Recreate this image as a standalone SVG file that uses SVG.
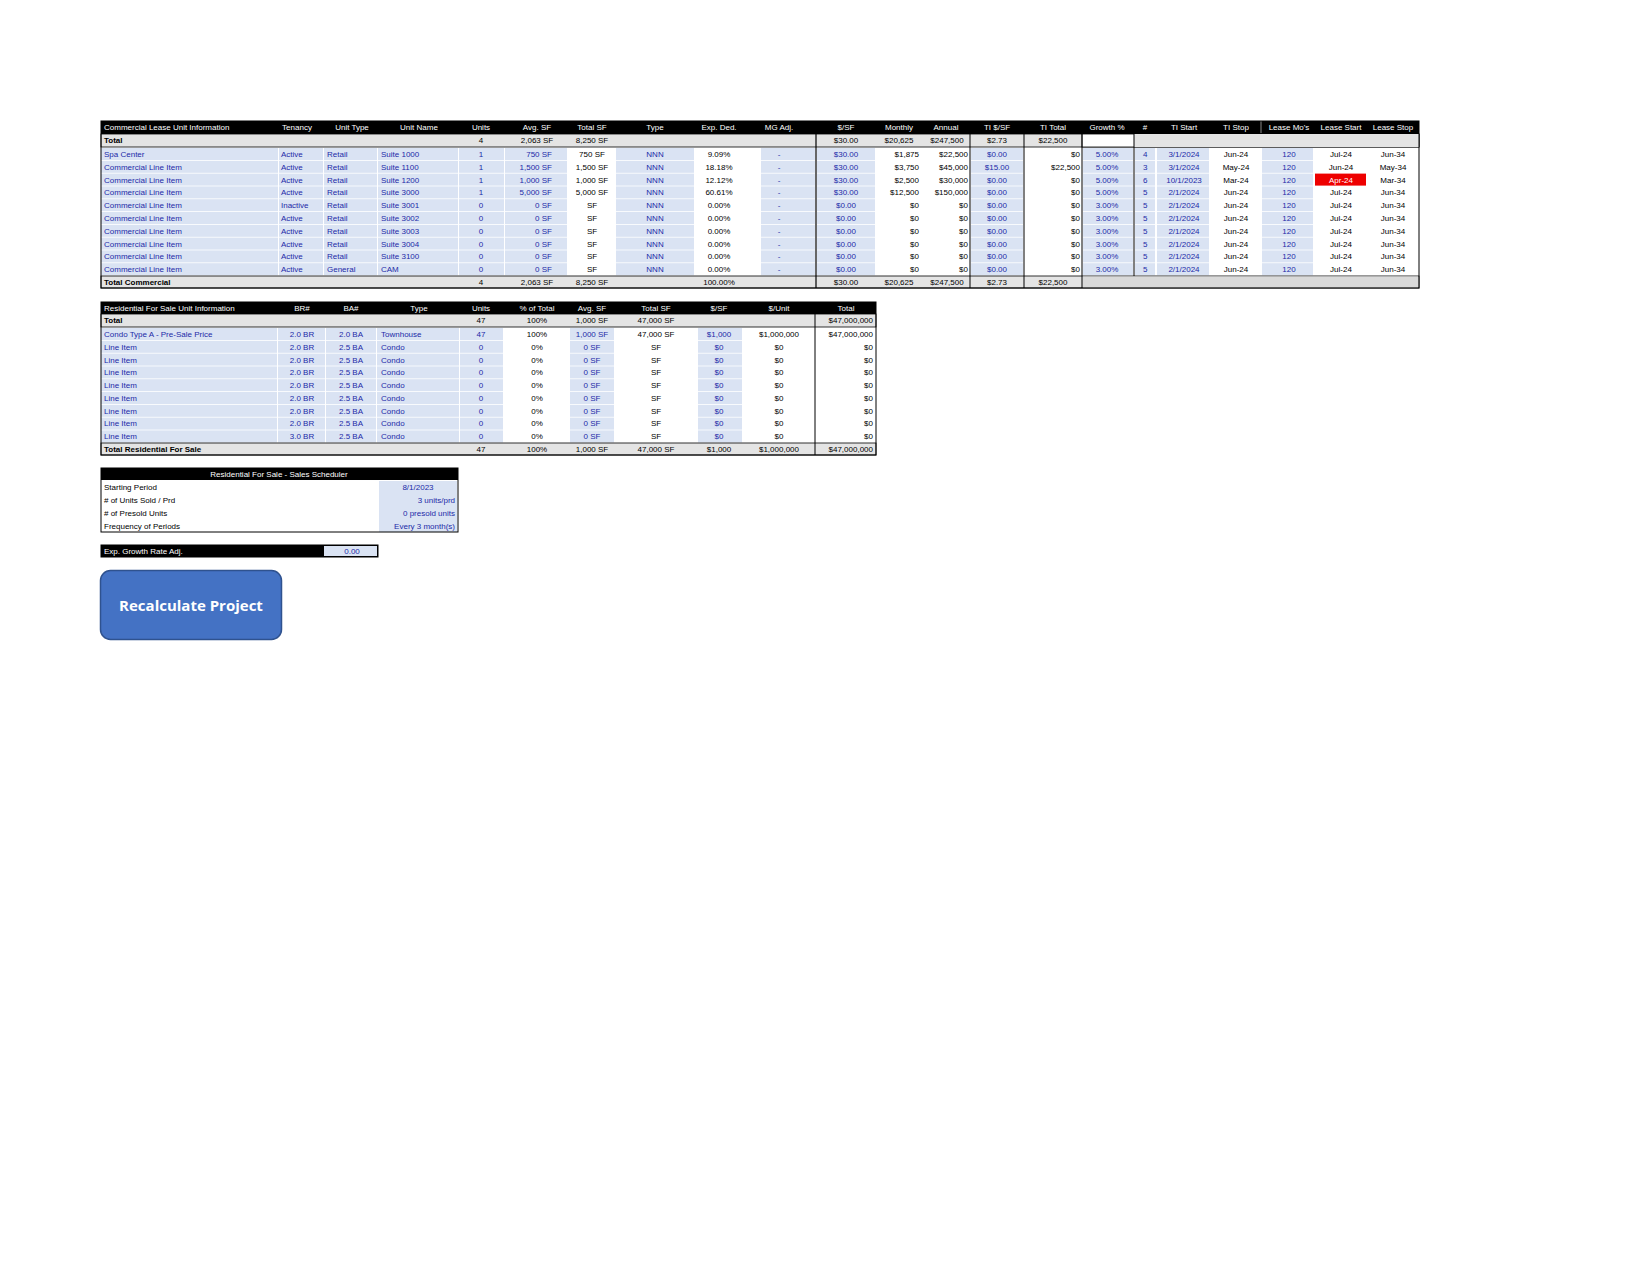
<svg xmlns="http://www.w3.org/2000/svg" width="1650" height="1275" viewBox="0 0 1650 1275">
<style>
text{font-family:"Liberation Sans",Arial,sans-serif;font-size:8px;fill:#000}
.h{fill:#fff}.b{fill:#1c2aa8}.bo{font-weight:bold}
.m{text-anchor:middle}.r{text-anchor:end}
.lb{fill:#dae3f3}.gr{fill:#e4e4e4}.bk{fill:#000}
</style>
<defs>
<g id="crow"><rect x="101" y="0.5" width="177" height="12" class="lb"/><rect x="279" y="0.5" width="44" height="12" class="lb"/><rect x="324" y="0.5" width="53" height="12" class="lb"/><rect x="378" y="0.5" width="80" height="12" class="lb"/><rect x="459" y="0.5" width="45" height="12" class="lb"/><rect x="505" y="0.5" width="62" height="12" class="lb"/><rect x="616" y="0.5" width="78" height="12" class="lb"/><rect x="761" y="0.5" width="54" height="12" class="lb"/><rect x="817" y="0.5" width="58" height="12" class="lb"/><rect x="971" y="0.5" width="52" height="12" class="lb"/><rect x="1083" y="0.5" width="50" height="12" class="lb"/><rect x="1135" y="0.5" width="20" height="12" class="lb"/><rect x="1157" y="0.5" width="52" height="12" class="lb"/><rect x="1262" y="0.5" width="51" height="12" class="lb"/></g>
<g id="rrow"><rect x="101" y="0.5" width="176" height="12" class="lb"/><rect x="278" y="0.5" width="47" height="12" class="lb"/><rect x="326" y="0.5" width="50" height="12" class="lb"/><rect x="377" y="0.5" width="82" height="12" class="lb"/><rect x="460" y="0.5" width="43" height="12" class="lb"/><rect x="570" y="0.5" width="44" height="12" class="lb"/><rect x="698" y="0.5" width="44" height="12" class="lb"/></g>
</defs>
<rect width="1650" height="1275" fill="#fff"/>
<g id="commercial">
<rect x="101" y="121" width="1318" height="13" class="bk"/>
<text x="104" y="130" class="h">Commercial Lease Unit Information</text>
<text x="297" y="130" class="h m">Tenancy</text><text x="352" y="130" class="h m">Unit Type</text><text x="419" y="130" class="h m">Unit Name</text><text x="481" y="130" class="h m">Units</text><text x="537" y="130" class="h m">Avg. SF</text><text x="592" y="130" class="h m">Total SF</text><text x="655" y="130" class="h m">Type</text><text x="719" y="130" class="h m">Exp. Ded.</text><text x="779" y="130" class="h m">MG Adj.</text><text x="846" y="130" class="h m">$/SF</text><text x="899" y="130" class="h m">Monthly</text><text x="946" y="130" class="h m">Annual</text><text x="997" y="130" class="h m">TI $/SF</text><text x="1053" y="130" class="h m">TI Total</text><text x="1107" y="130" class="h m">Growth %</text><text x="1145" y="130" class="h m">#</text><text x="1184" y="130" class="h m">TI Start</text><text x="1236" y="130" class="h m">TI Stop</text><text x="1289" y="130" class="h m">Lease Mo's</text><text x="1341" y="130" class="h m">Lease Start</text><text x="1393" y="130" class="h m">Lease Stop</text>
<rect x="101" y="134" width="1318" height="13" class="gr" stroke="#000" stroke-width="0.8"/>
<rect x="1082" y="134" width="337" height="13" fill="#fff" stroke="#000" stroke-width="0.8"/>
<rect x="1134" y="134" width="285" height="13" class="gr"/>
<text x="104" y="143" class="bo">Total</text><text x="481" y="143" class="m">4</text><text x="537" y="143" class="m">2,063 SF</text><text x="592" y="143" class="m">8,250 SF</text><text x="846" y="143" class="m">$30.00</text><text x="899" y="143" class="m">$20,625</text><text x="947" y="143" class="m">$247,500</text><text x="997" y="143" class="m">$2.73</text><text x="1053" y="143" class="m">$22,500</text>
<use href="#crow" y="147.5"/><use href="#crow" y="160.3"/><use href="#crow" y="173.1"/><use href="#crow" y="185.9"/><use href="#crow" y="198.7"/><use href="#crow" y="211.5"/><use href="#crow" y="224.3"/><use href="#crow" y="237.1"/><use href="#crow" y="249.9"/><use href="#crow" y="262.7"/>
<rect x="1315" y="173.6" width="51" height="12" fill="#ee0000"/>
<line x1="816" y1="121" x2="816" y2="288" stroke="#000" stroke-width="1.2"/>
<line x1="970" y1="134" x2="970" y2="288" stroke="#000" stroke-width="1"/>
<line x1="1024" y1="121" x2="1024" y2="288" stroke="#000" stroke-width="1"/>
<line x1="1082" y1="134" x2="1082" y2="288" stroke="#000" stroke-width="1"/>
<line x1="1134" y1="134" x2="1134" y2="288" stroke="#000" stroke-width="1"/>
<line x1="1261" y1="121" x2="1261" y2="133" stroke="#888" stroke-width="1"/>
<g id="ctext">
<text x="104" y="157" class="b">Spa Center</text><text x="281" y="157" class="b">Active</text><text x="327" y="157" class="b">Retail</text><text x="381" y="157" class="b">Suite 1000</text><text x="481" y="157" class="b m">1</text><text x="552" y="157" class="b r">750 SF</text><text x="592" y="157" class="m">750 SF</text><text x="655" y="157" class="b m">NNN</text><text x="719" y="157" class="m">9.09%</text><text x="779" y="157" class="b m">-</text><text x="846" y="157" class="b m">$30.00</text><text x="919" y="157" class="r">$1,875</text><text x="968" y="157" class="r">$22,500</text><text x="997" y="157" class="b m">$0.00</text><text x="1080" y="157" class="r">$0</text><text x="1107" y="157" class="b m">5.00%</text><text x="1143" y="157" class="b">4</text><text x="1184" y="157" class="b m">3/1/2024</text><text x="1236" y="157" class="m">Jun-24</text><text x="1289" y="157" class="b m">120</text><text x="1341" y="157" class="m">Jul-24</text><text x="1393" y="157" class="m">Jun-34</text>
<text x="104" y="170" class="b">Commercial Line Item</text><text x="281" y="170" class="b">Active</text><text x="327" y="170" class="b">Retail</text><text x="381" y="170" class="b">Suite 1100</text><text x="481" y="170" class="b m">1</text><text x="552" y="170" class="b r">1,500 SF</text><text x="592" y="170" class="m">1,500 SF</text><text x="655" y="170" class="b m">NNN</text><text x="719" y="170" class="m">18.18%</text><text x="779" y="170" class="b m">-</text><text x="846" y="170" class="b m">$30.00</text><text x="919" y="170" class="r">$3,750</text><text x="968" y="170" class="r">$45,000</text><text x="997" y="170" class="b m">$15.00</text><text x="1080" y="170" class="r">$22,500</text><text x="1107" y="170" class="b m">5.00%</text><text x="1143" y="170" class="b">3</text><text x="1184" y="170" class="b m">3/1/2024</text><text x="1236" y="170" class="m">May-24</text><text x="1289" y="170" class="b m">120</text><text x="1341" y="170" class="m">Jun-24</text><text x="1393" y="170" class="m">May-34</text>
<text x="104" y="183" class="b">Commercial Line Item</text><text x="281" y="183" class="b">Active</text><text x="327" y="183" class="b">Retail</text><text x="381" y="183" class="b">Suite 1200</text><text x="481" y="183" class="b m">1</text><text x="552" y="183" class="b r">1,000 SF</text><text x="592" y="183" class="m">1,000 SF</text><text x="655" y="183" class="b m">NNN</text><text x="719" y="183" class="m">12.12%</text><text x="779" y="183" class="b m">-</text><text x="846" y="183" class="b m">$30.00</text><text x="919" y="183" class="r">$2,500</text><text x="968" y="183" class="r">$30,000</text><text x="997" y="183" class="b m">$0.00</text><text x="1080" y="183" class="r">$0</text><text x="1107" y="183" class="b m">5.00%</text><text x="1143" y="183" class="b">6</text><text x="1184" y="183" class="b m">10/1/2023</text><text x="1236" y="183" class="m">Mar-24</text><text x="1289" y="183" class="b m">120</text><text x="1341" y="183" class="m h">Apr-24</text><text x="1393" y="183" class="m">Mar-34</text>
<text x="104" y="195" class="b">Commercial Line Item</text><text x="281" y="195" class="b">Active</text><text x="327" y="195" class="b">Retail</text><text x="381" y="195" class="b">Suite 3000</text><text x="481" y="195" class="b m">1</text><text x="552" y="195" class="b r">5,000 SF</text><text x="592" y="195" class="m">5,000 SF</text><text x="655" y="195" class="b m">NNN</text><text x="719" y="195" class="m">60.61%</text><text x="779" y="195" class="b m">-</text><text x="846" y="195" class="b m">$30.00</text><text x="919" y="195" class="r">$12,500</text><text x="968" y="195" class="r">$150,000</text><text x="997" y="195" class="b m">$0.00</text><text x="1080" y="195" class="r">$0</text><text x="1107" y="195" class="b m">5.00%</text><text x="1143" y="195" class="b">5</text><text x="1184" y="195" class="b m">2/1/2024</text><text x="1236" y="195" class="m">Jun-24</text><text x="1289" y="195" class="b m">120</text><text x="1341" y="195" class="m">Jul-24</text><text x="1393" y="195" class="m">Jun-34</text>
<text x="104" y="208" class="b">Commercial Line Item</text><text x="281" y="208" class="b">Inactive</text><text x="327" y="208" class="b">Retail</text><text x="381" y="208" class="b">Suite 3001</text><text x="481" y="208" class="b m">0</text><text x="552" y="208" class="b r">0 SF</text><text x="592" y="208" class="m">SF</text><text x="655" y="208" class="b m">NNN</text><text x="719" y="208" class="m">0.00%</text><text x="779" y="208" class="b m">-</text><text x="846" y="208" class="b m">$0.00</text><text x="919" y="208" class="r">$0</text><text x="968" y="208" class="r">$0</text><text x="997" y="208" class="b m">$0.00</text><text x="1080" y="208" class="r">$0</text><text x="1107" y="208" class="b m">3.00%</text><text x="1143" y="208" class="b">5</text><text x="1184" y="208" class="b m">2/1/2024</text><text x="1236" y="208" class="m">Jun-24</text><text x="1289" y="208" class="b m">120</text><text x="1341" y="208" class="m">Jul-24</text><text x="1393" y="208" class="m">Jun-34</text>
<text x="104" y="221" class="b">Commercial Line Item</text><text x="281" y="221" class="b">Active</text><text x="327" y="221" class="b">Retail</text><text x="381" y="221" class="b">Suite 3002</text><text x="481" y="221" class="b m">0</text><text x="552" y="221" class="b r">0 SF</text><text x="592" y="221" class="m">SF</text><text x="655" y="221" class="b m">NNN</text><text x="719" y="221" class="m">0.00%</text><text x="779" y="221" class="b m">-</text><text x="846" y="221" class="b m">$0.00</text><text x="919" y="221" class="r">$0</text><text x="968" y="221" class="r">$0</text><text x="997" y="221" class="b m">$0.00</text><text x="1080" y="221" class="r">$0</text><text x="1107" y="221" class="b m">3.00%</text><text x="1143" y="221" class="b">5</text><text x="1184" y="221" class="b m">2/1/2024</text><text x="1236" y="221" class="m">Jun-24</text><text x="1289" y="221" class="b m">120</text><text x="1341" y="221" class="m">Jul-24</text><text x="1393" y="221" class="m">Jun-34</text>
<text x="104" y="234" class="b">Commercial Line Item</text><text x="281" y="234" class="b">Active</text><text x="327" y="234" class="b">Retail</text><text x="381" y="234" class="b">Suite 3003</text><text x="481" y="234" class="b m">0</text><text x="552" y="234" class="b r">0 SF</text><text x="592" y="234" class="m">SF</text><text x="655" y="234" class="b m">NNN</text><text x="719" y="234" class="m">0.00%</text><text x="779" y="234" class="b m">-</text><text x="846" y="234" class="b m">$0.00</text><text x="919" y="234" class="r">$0</text><text x="968" y="234" class="r">$0</text><text x="997" y="234" class="b m">$0.00</text><text x="1080" y="234" class="r">$0</text><text x="1107" y="234" class="b m">3.00%</text><text x="1143" y="234" class="b">5</text><text x="1184" y="234" class="b m">2/1/2024</text><text x="1236" y="234" class="m">Jun-24</text><text x="1289" y="234" class="b m">120</text><text x="1341" y="234" class="m">Jul-24</text><text x="1393" y="234" class="m">Jun-34</text>
<text x="104" y="247" class="b">Commercial Line Item</text><text x="281" y="247" class="b">Active</text><text x="327" y="247" class="b">Retail</text><text x="381" y="247" class="b">Suite 3004</text><text x="481" y="247" class="b m">0</text><text x="552" y="247" class="b r">0 SF</text><text x="592" y="247" class="m">SF</text><text x="655" y="247" class="b m">NNN</text><text x="719" y="247" class="m">0.00%</text><text x="779" y="247" class="b m">-</text><text x="846" y="247" class="b m">$0.00</text><text x="919" y="247" class="r">$0</text><text x="968" y="247" class="r">$0</text><text x="997" y="247" class="b m">$0.00</text><text x="1080" y="247" class="r">$0</text><text x="1107" y="247" class="b m">3.00%</text><text x="1143" y="247" class="b">5</text><text x="1184" y="247" class="b m">2/1/2024</text><text x="1236" y="247" class="m">Jun-24</text><text x="1289" y="247" class="b m">120</text><text x="1341" y="247" class="m">Jul-24</text><text x="1393" y="247" class="m">Jun-34</text>
<text x="104" y="259" class="b">Commercial Line Item</text><text x="281" y="259" class="b">Active</text><text x="327" y="259" class="b">Retail</text><text x="381" y="259" class="b">Suite 3100</text><text x="481" y="259" class="b m">0</text><text x="552" y="259" class="b r">0 SF</text><text x="592" y="259" class="m">SF</text><text x="655" y="259" class="b m">NNN</text><text x="719" y="259" class="m">0.00%</text><text x="779" y="259" class="b m">-</text><text x="846" y="259" class="b m">$0.00</text><text x="919" y="259" class="r">$0</text><text x="968" y="259" class="r">$0</text><text x="997" y="259" class="b m">$0.00</text><text x="1080" y="259" class="r">$0</text><text x="1107" y="259" class="b m">3.00%</text><text x="1143" y="259" class="b">5</text><text x="1184" y="259" class="b m">2/1/2024</text><text x="1236" y="259" class="m">Jun-24</text><text x="1289" y="259" class="b m">120</text><text x="1341" y="259" class="m">Jul-24</text><text x="1393" y="259" class="m">Jun-34</text>
<text x="104" y="272" class="b">Commercial Line Item</text><text x="281" y="272" class="b">Active</text><text x="327" y="272" class="b">General</text><text x="381" y="272" class="b">CAM</text><text x="481" y="272" class="b m">0</text><text x="552" y="272" class="b r">0 SF</text><text x="592" y="272" class="m">SF</text><text x="655" y="272" class="b m">NNN</text><text x="719" y="272" class="m">0.00%</text><text x="779" y="272" class="b m">-</text><text x="846" y="272" class="b m">$0.00</text><text x="919" y="272" class="r">$0</text><text x="968" y="272" class="r">$0</text><text x="997" y="272" class="b m">$0.00</text><text x="1080" y="272" class="r">$0</text><text x="1107" y="272" class="b m">3.00%</text><text x="1143" y="272" class="b">5</text><text x="1184" y="272" class="b m">2/1/2024</text><text x="1236" y="272" class="m">Jun-24</text><text x="1289" y="272" class="b m">120</text><text x="1341" y="272" class="m">Jul-24</text><text x="1393" y="272" class="m">Jun-34</text>
</g>
<rect x="101" y="276" width="1318" height="12" class="gr" stroke="#000" stroke-width="0.8"/>
<rect x="1082.5" y="276.5" width="336" height="11" fill="#d9d9d9"/>
<line x1="816" y1="276" x2="816" y2="288" stroke="#000" stroke-width="1.2"/><line x1="970" y1="276" x2="970" y2="288" stroke="#000"/><line x1="1024" y1="276" x2="1024" y2="288" stroke="#000"/><line x1="1082" y1="276" x2="1082" y2="288" stroke="#000"/>
<text x="104" y="285" class="bo">Total Commercial</text><text x="481" y="285" class="m">4</text><text x="537" y="285" class="m">2,063 SF</text><text x="592" y="285" class="m">8,250 SF</text><text x="719" y="285" class="m">100.00%</text><text x="846" y="285" class="m">$30.00</text><text x="899" y="285" class="m">$20,625</text><text x="947" y="285" class="m">$247,500</text><text x="997" y="285" class="m">$2.73</text><text x="1053" y="285" class="m">$22,500</text>
<rect x="101" y="121" width="1318" height="167" fill="none" stroke="#000" stroke-width="1"/>
</g>
<g id="residential">
<rect x="101" y="302" width="775" height="12" class="bk"/>
<text x="104" y="311" class="h">Residential For Sale Unit Information</text><text x="302" y="311" class="h m">BR#</text><text x="351" y="311" class="h m">BA#</text><text x="419" y="311" class="h m">Type</text><text x="481" y="311" class="h m">Units</text><text x="537" y="311" class="h m">% of Total</text><text x="592" y="311" class="h m">Avg. SF</text><text x="656" y="311" class="h m">Total SF</text><text x="719" y="311" class="h m">$/SF</text><text x="779" y="311" class="h m">$/Unit</text><text x="846" y="311" class="h m">Total</text>
<rect x="101" y="314" width="775" height="13" class="gr" stroke="#000" stroke-width="0.8"/>
<text x="104" y="323" class="bo">Total</text><text x="481" y="323" class="m">47</text><text x="537" y="323" class="m">100%</text><text x="592" y="323" class="m">1,000 SF</text><text x="656" y="323" class="m">47,000 SF</text><text x="873" y="323" class="r">$47,000,000</text>
<use href="#rrow" y="327.5"/><use href="#rrow" y="340.3"/><use href="#rrow" y="353.1"/><use href="#rrow" y="365.9"/><use href="#rrow" y="378.7"/><use href="#rrow" y="391.5"/><use href="#rrow" y="404.3"/><use href="#rrow" y="417.1"/><use href="#rrow" y="429.9"/>
<text x="104" y="337" class="b">Condo Type A - Pre-Sale Price</text><text x="302" y="337" class="b m">2.0 BR</text><text x="351" y="337" class="b m">2.0 BA</text><text x="381" y="337" class="b">Townhouse</text><text x="481" y="337" class="b m">47</text><text x="537" y="337" class="m">100%</text><text x="592" y="337" class="b m">1,000 SF</text><text x="656" y="337" class="m">47,000 SF</text><text x="719" y="337" class="b m">$1,000</text><text x="779" y="337" class="m">$1,000,000</text><text x="873" y="337" class="r">$47,000,000</text>
<g id="rlines">
<text x="104" y="350" class="b">Line Item</text><text x="302" y="350" class="b m">2.0 BR</text><text x="351" y="350" class="b m">2.5 BA</text><text x="381" y="350" class="b">Condo</text><text x="481" y="350" class="b m">0</text><text x="537" y="350" class="m">0%</text><text x="592" y="350" class="b m">0 SF</text><text x="656" y="350" class="m">SF</text><text x="719" y="350" class="b m">$0</text><text x="779" y="350" class="m">$0</text><text x="873" y="350" class="r">$0</text>
<text x="104" y="363" class="b">Line Item</text><text x="302" y="363" class="b m">2.0 BR</text><text x="351" y="363" class="b m">2.5 BA</text><text x="381" y="363" class="b">Condo</text><text x="481" y="363" class="b m">0</text><text x="537" y="363" class="m">0%</text><text x="592" y="363" class="b m">0 SF</text><text x="656" y="363" class="m">SF</text><text x="719" y="363" class="b m">$0</text><text x="779" y="363" class="m">$0</text><text x="873" y="363" class="r">$0</text>
<text x="104" y="375" class="b">Line Item</text><text x="302" y="375" class="b m">2.0 BR</text><text x="351" y="375" class="b m">2.5 BA</text><text x="381" y="375" class="b">Condo</text><text x="481" y="375" class="b m">0</text><text x="537" y="375" class="m">0%</text><text x="592" y="375" class="b m">0 SF</text><text x="656" y="375" class="m">SF</text><text x="719" y="375" class="b m">$0</text><text x="779" y="375" class="m">$0</text><text x="873" y="375" class="r">$0</text>
<text x="104" y="388" class="b">Line Item</text><text x="302" y="388" class="b m">2.0 BR</text><text x="351" y="388" class="b m">2.5 BA</text><text x="381" y="388" class="b">Condo</text><text x="481" y="388" class="b m">0</text><text x="537" y="388" class="m">0%</text><text x="592" y="388" class="b m">0 SF</text><text x="656" y="388" class="m">SF</text><text x="719" y="388" class="b m">$0</text><text x="779" y="388" class="m">$0</text><text x="873" y="388" class="r">$0</text>
<text x="104" y="401" class="b">Line Item</text><text x="302" y="401" class="b m">2.0 BR</text><text x="351" y="401" class="b m">2.5 BA</text><text x="381" y="401" class="b">Condo</text><text x="481" y="401" class="b m">0</text><text x="537" y="401" class="m">0%</text><text x="592" y="401" class="b m">0 SF</text><text x="656" y="401" class="m">SF</text><text x="719" y="401" class="b m">$0</text><text x="779" y="401" class="m">$0</text><text x="873" y="401" class="r">$0</text>
<text x="104" y="414" class="b">Line Item</text><text x="302" y="414" class="b m">2.0 BR</text><text x="351" y="414" class="b m">2.5 BA</text><text x="381" y="414" class="b">Condo</text><text x="481" y="414" class="b m">0</text><text x="537" y="414" class="m">0%</text><text x="592" y="414" class="b m">0 SF</text><text x="656" y="414" class="m">SF</text><text x="719" y="414" class="b m">$0</text><text x="779" y="414" class="m">$0</text><text x="873" y="414" class="r">$0</text>
<text x="104" y="426" class="b">Line Item</text><text x="302" y="426" class="b m">2.0 BR</text><text x="351" y="426" class="b m">2.5 BA</text><text x="381" y="426" class="b">Condo</text><text x="481" y="426" class="b m">0</text><text x="537" y="426" class="m">0%</text><text x="592" y="426" class="b m">0 SF</text><text x="656" y="426" class="m">SF</text><text x="719" y="426" class="b m">$0</text><text x="779" y="426" class="m">$0</text><text x="873" y="426" class="r">$0</text>
<text x="104" y="439" class="b">Line Item</text><text x="302" y="439" class="b m">3.0 BR</text><text x="351" y="439" class="b m">2.5 BA</text><text x="381" y="439" class="b">Condo</text><text x="481" y="439" class="b m">0</text><text x="537" y="439" class="m">0%</text><text x="592" y="439" class="b m">0 SF</text><text x="656" y="439" class="m">SF</text><text x="719" y="439" class="b m">$0</text><text x="779" y="439" class="m">$0</text><text x="873" y="439" class="r">$0</text>
</g>
<rect x="101" y="443" width="775" height="12" class="gr" stroke="#000" stroke-width="0.8"/>
<text x="104" y="452" class="bo">Total Residential For Sale</text><text x="481" y="452" class="m">47</text><text x="537" y="452" class="m">100%</text><text x="592" y="452" class="m">1,000 SF</text><text x="656" y="452" class="m">47,000 SF</text><text x="719" y="452" class="m">$1,000</text><text x="779" y="452" class="m">$1,000,000</text><text x="873" y="452" class="r">$47,000,000</text>
<line x1="815" y1="302" x2="815" y2="455" stroke="#000" stroke-width="1"/>
<rect x="101" y="302" width="775" height="153" fill="none" stroke="#000" stroke-width="1"/>
</g>
<g id="scheduler">
<rect x="101" y="468" width="357" height="12" class="bk"/>
<text x="279" y="477" class="h m">Residential For Sale - Sales Scheduler</text>
<rect x="379" y="481" width="78" height="51" class="lb"/>
<text x="104" y="490">Starting Period</text><text x="418" y="490" class="b m">8/1/2023</text>
<text x="104" y="503"># of Units Sold / Prd</text><text x="455" y="503" class="b r">3 units/prd</text>
<text x="104" y="516"># of Presold Units</text><text x="455" y="516" class="b r">0 presold units</text>
<text x="104" y="529">Frequency of Periods</text><text x="455" y="529" class="b r">Every 3 month(s)</text>
<rect x="101" y="468" width="357" height="64" fill="none" stroke="#000" stroke-width="1"/>
</g>
<g id="growth">
<rect x="101" y="545" width="277" height="12" class="bk"/>
<rect x="324" y="546" width="53" height="10" class="lb"/>
<text x="104" y="554" class="h">Exp. Growth Rate Adj.</text><text x="352" y="554" class="b m">0.00</text>
<rect x="101" y="545" width="277" height="12" fill="none" stroke="#000" stroke-width="1"/>
</g>
<g id="button">
<rect x="100.5" y="570.5" width="181" height="69" rx="10" fill="#4472c4" stroke="#2f528f" stroke-width="1.5"/>
<text x="191" y="611" class="m bo" style="fill:#fff;font-size:15px;font-family:'Open Sans','Liberation Sans',sans-serif">Recalculate Project</text>
</g>
</svg>
